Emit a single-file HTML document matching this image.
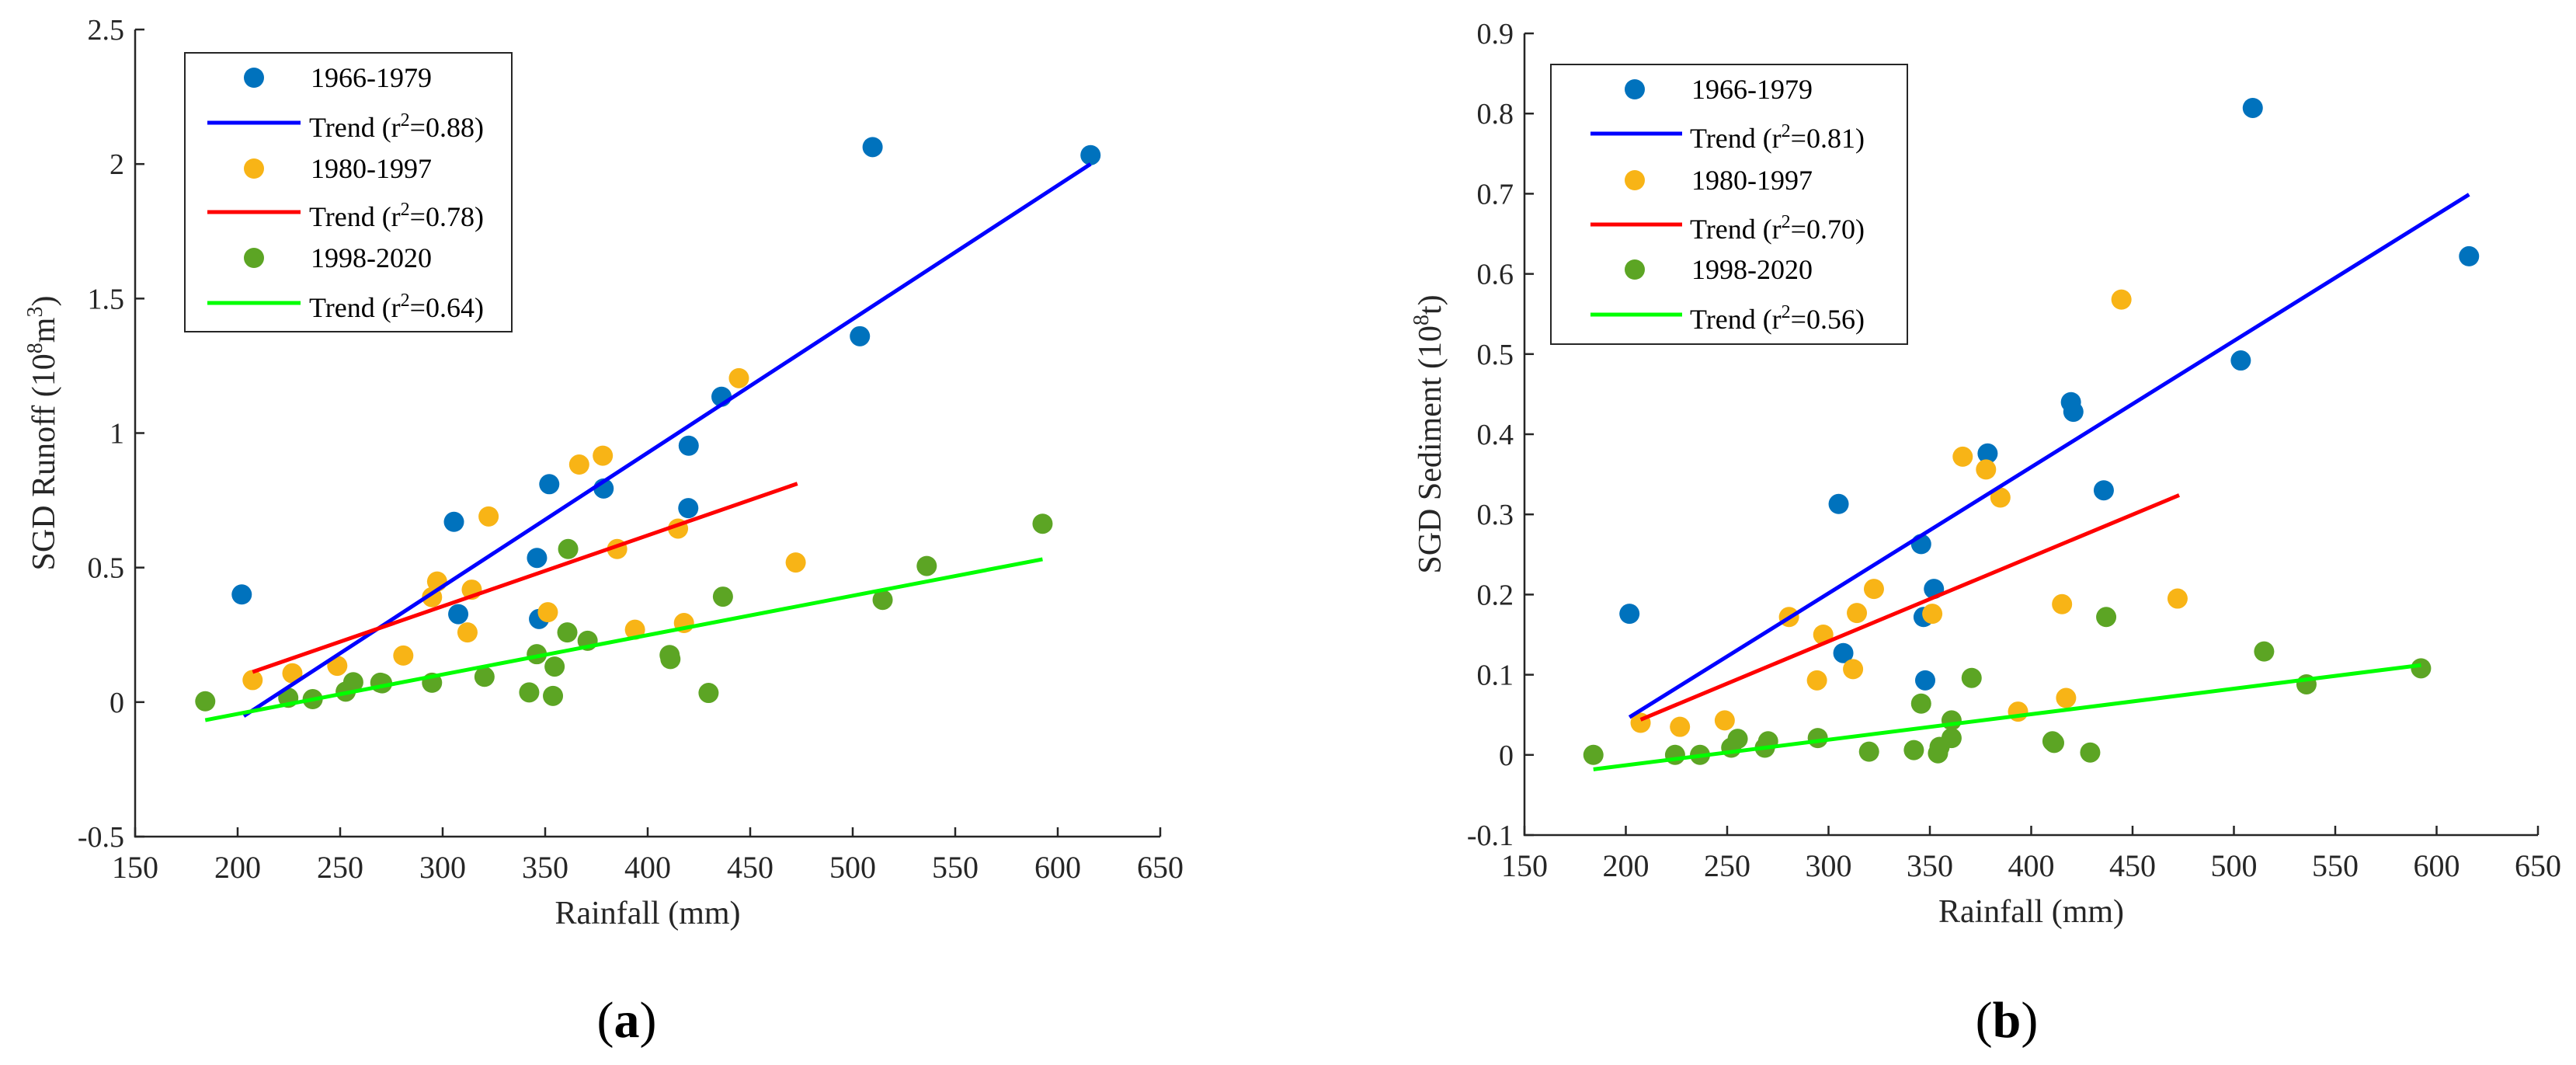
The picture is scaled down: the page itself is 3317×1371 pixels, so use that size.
<!DOCTYPE html>
<html><head><meta charset="utf-8"><style>
html,body{margin:0;padding:0;background:#fff;}
svg{display:block;}
svg text{font-family:"Liberation Serif","Times New Roman",serif;}
</style></head><body>
<svg id="fig" width="3317" height="1371" viewBox="0 0 3317 1371" xmlns="http://www.w3.org/2000/svg" font-family="Liberation Serif, serif"></svg>
<script>
// ---------- Panel A data ----------
const aBlueX=[202,305.5,307.6,346,347,352,378.5,420,419.8,436,503.5,509.7,616];
const aBlueY=[0.40,0.67,0.327,0.536,0.309,0.81,0.794,0.953,0.721,1.135,1.36,2.063,2.033];
const aOrangeX=[207.3,226.7,248.6,280.8,294.8,297.3,312.1,314.2,322.4,351.3,366.6,378.1,385.1,393.8,414.8,417.7,444.5,472.2];
const aOrangeY=[0.082,0.107,0.135,0.173,0.39,0.448,0.259,0.418,0.69,0.334,0.883,0.916,0.569,0.269,0.645,0.294,1.204,0.519];
const aGreenX=[184.2,224.7,236.6,252.7,256.4,269.6,270.5,294.8,320.4,342.2,345.9,353.8,354.6,361.2,360.8,370.7,410.7,411.1,429.7,436.7,514.6,536.1,592.6];
const aGreenY=[0.003,0.016,0.011,0.039,0.074,0.072,0.070,0.072,0.094,0.036,0.178,0.023,0.132,0.569,0.259,0.228,0.175,0.16,0.034,0.392,0.38,0.506,0.663];
const aBlueTrend=[[203,-0.052],[616,2.0]];
const aRedTrend=[[207.3,0.112],[473,0.812]];
const aGreenTrend=[[184.2,-0.067],[592.6,0.531]];
const aYTicks=[-0.5,0,0.5,1,1.5,2,2.5];
const aYLabels=["-0.5","0","0.5","1","1.5","2","2.5"];
const aR2=["0.88","0.78","0.64"];
// ---------- Panel B data ----------
const bBlueX=[201.8,305,307.3,345.7,346.9,347.7,352,378.5,419.6,420.8,435.8,503.4,509.3,616];
const bBlueY=[0.176,0.313,0.127,0.263,0.172,0.093,0.207,0.376,0.44,0.428,0.33,0.492,0.807,0.622];
const bOrangeX=[207.3,226.7,248.8,280.5,294.3,297.4,312.1,314,322.4,351.2,366.2,377.7,384.8,393.5,415.2,417.2,444.5,472.2];
const bOrangeY=[0.04,0.035,0.043,0.172,0.093,0.15,0.107,0.177,0.207,0.176,0.372,0.356,0.321,0.054,0.188,0.071,0.568,0.195];
const bGreenX=[184,224.3,236.6,252,255.2,268.6,270.2,294.7,320,342.1,345.7,354,354.8,360.7,360.7,370.6,410.5,411.3,429.1,437,514.9,535.8,592.3];
const bGreenY=[0.0,0.0,0.0,0.009,0.020,0.009,0.017,0.021,0.004,0.006,0.064,0.002,0.010,0.021,0.043,0.096,0.017,0.015,0.003,0.172,0.129,0.088,0.108];
const bBlueTrend=[[201.8,0.047],[616,0.699]];
const bRedTrend=[[207.3,0.044],[473,0.324]];
const bGreenTrend=[[184,-0.018],[592.3,0.112]];
const bYTicks=[-0.1,0,0.1,0.2,0.3,0.4,0.5,0.6,0.7,0.8,0.9];
const bYLabels=["-0.1","0","0.1","0.2","0.3","0.4","0.5","0.6","0.7","0.8","0.9"];
const bR2=["0.81","0.70","0.56"];
const xTicks=[150,200,250,300,350,400,450,500,550,600,650];
const xLabels=["150","200","250","300","350","400","450","500","550","600","650"];
const periods=["1966-1979","1980-1997","1998-2020"];

const NS="http://www.w3.org/2000/svg";
const svg=document.getElementById('fig');
const FONT='"Liberation Serif", "Times New Roman", serif';
const C={blue:"#0072BD",orange:"#F8B416",green:"#5CA524",lb:"#0000FF",lr:"#FF0000",lg:"#00FF00",txt:"#262626"};
function el(tag,attrs,parent){const e=document.createElementNS(NS,tag);for(const k in attrs)e.setAttribute(k,attrs[k]);if(tag==='text')e.style.fontFamily=FONT;(parent||svg).appendChild(e);return e;}

function panel(p){
  const g=el('g',{});
  
  
  const sx=v=>p.x0+(v-150)/500*(p.x1-p.x0);
  const sy=v=>p.yb-(v-p.ymin)/(p.ymax-p.ymin)*(p.yb-p.yt);
  const ax=el('path',{d:`M${p.x0},${p.yt} L${p.x0},${p.yb} L${p.x1},${p.yb}`,fill:'none',stroke:C.txt,'stroke-width':2.5},g);
  
  
  xTicks.forEach((t,i)=>{
    const x=sx(t);
    const tk=el('line',{x1:x,x2:x,y1:p.yb,y2:p.yb-12,stroke:C.txt,'stroke-width':2.5},g);
    
    
    const tl=el('text',{x:x,y:p.yb+53,'text-anchor':'middle','font-size':40,fill:C.txt},g);
    tl.textContent=xLabels[i];
    
    
  });
  p.yTicks.forEach((t,i)=>{
    const y=sy(t);
    const tk=el('line',{x1:p.x0,x2:p.x0+12,y1:y,y2:y,stroke:C.txt,'stroke-width':2.5},g);
    
    
    const tl=el('text',{x:p.x0-14,y:y+13,'text-anchor':'end','font-size':38,fill:C.txt},g);
    tl.textContent=p.yLabels[i];
    
    
  });
  const xt=el('text',{x:(p.x0+p.x1)/2,y:p.yb+112,'text-anchor':'middle','font-size':42,fill:C.txt},g);
  xt.textContent='Rainfall (mm)';
  
  
  const yt=el('text',{transform:`translate(${p.ytx},${(p.yt+p.yb)/2}) rotate(-90)`,'text-anchor':'middle','font-size':42,fill:C.txt},g);
  yt.innerHTML=p.ytitle;
  
  
  const lab=el('text',{x:p.labx,y:1335,'text-anchor':'middle','font-size':66,fill:'#000'},g);
  lab.innerHTML=p.label;
  
  
  const trend=(tr,col,nm)=>{
    const l=el('line',{x1:sx(tr[0][0]),y1:sy(tr[0][1]),x2:sx(tr[1][0]),y2:sy(tr[1][1]),stroke:col,'stroke-width':5},g);
    
    
  };
  const pts=(xs,ys,col,nm)=>{
    xs.forEach((xv,i)=>{
      const c=el('circle',{cx:sx(xv),cy:sy(ys[i]),r:13,fill:col},g);
      
      
    });
  };
  pts(p.bx,p.by,C.blue,'point-1966-1979');
  pts(p.ox,p.oy,C.orange,'point-1980-1997');
  pts(p.gx,p.gy,C.green,'point-1998-2020');
  trend(p.bt,C.lb,'trend-line-1966-1979');
  trend(p.rt,C.lr,'trend-line-1980-1997');
  trend(p.gt,C.lg,'trend-line-1998-2020');
  const L=p.leg;
  const lg=el('g',{},g);
  
  
  el('rect',{x:L.x,y:L.y,width:L.w,height:L.h,fill:'#fff',stroke:'#262626','stroke-width':2},lg);
  const cols=[C.blue,C.orange,C.green], lcols=[C.lb,C.lr,C.lg];
  for(let i=0;i<3;i++){
    const ym=L.rows[2*i], yl=L.rows[2*i+1];
    const m=el('circle',{cx:L.mx,cy:ym,r:13,fill:cols[i]},lg);
    
    
    const t1=el('text',{x:L.tx,y:ym+12,'font-size':36,fill:'#000'},lg);
    t1.textContent=periods[i];
    
    
    const ln=el('line',{x1:L.lx0,x2:L.lx1,y1:yl,y2:yl,stroke:lcols[i],'stroke-width':5},lg);
    
    
    const t2=el('text',{x:L.tx-2,y:yl+18,'font-size':36,fill:'#000'},lg);
    t2.innerHTML='Trend (r<tspan dy="-14" font-size="24">2</tspan><tspan dy="14">=</tspan>'+p.r2[i]+')';
    
    
  }
}

panel({name:'panel-a-runoff',x0:174,x1:1494,yt:38,yb:1077,ymin:-0.5,ymax:2.5,
  yTicks:aYTicks,yLabels:aYLabels,ytx:70,labx:807,label:'(<tspan font-weight="bold">a</tspan>)',
  ytitle:'SGD Runoff (10<tspan dy="-16" font-size="28">8</tspan><tspan dy="16">m</tspan><tspan dy="-16" font-size="28">3</tspan><tspan dy="16">)</tspan>',
  bx:aBlueX,by:aBlueY,ox:aOrangeX,oy:aOrangeY,gx:aGreenX,gy:aGreenY,
  bt:aBlueTrend,rt:aRedTrend,gt:aGreenTrend,r2:aR2,
  leg:{x:238,y:68,w:421,h:359,mx:327,lx0:267,lx1:387,tx:400,rows:[100,158,217,273,332,390]}});
panel({name:'panel-b-sediment',x0:1963,x1:3268,yt:43,yb:1075,ymin:-0.1,ymax:0.9,
  yTicks:bYTicks,yLabels:bYLabels,ytx:1855,labx:2584,label:'(<tspan font-weight="bold">b</tspan>)',
  ytitle:'SGD Sediment (10<tspan dy="-16" font-size="28">8</tspan><tspan dy="16">t)</tspan>',
  bx:bBlueX,by:bBlueY,ox:bOrangeX,oy:bOrangeY,gx:bGreenX,gy:bGreenY,
  bt:bBlueTrend,rt:bRedTrend,gt:bGreenTrend,r2:bR2,
  leg:{x:1997,y:83,w:459,h:360,mx:2105,lx0:2048,lx1:2166,tx:2178,rows:[115,172,232,289,347,405]}});
</script>
</body></html>
